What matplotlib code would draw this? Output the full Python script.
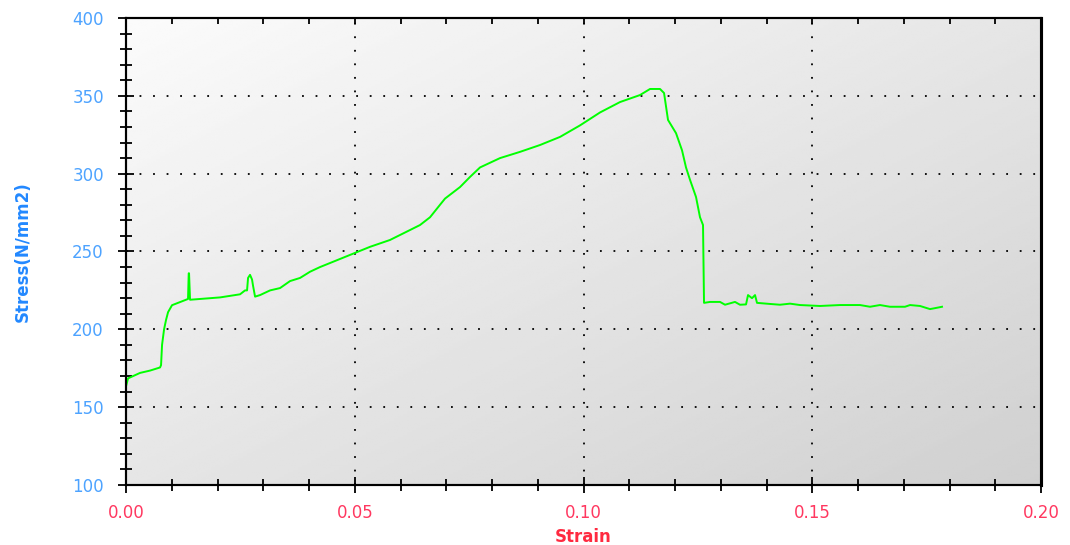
import numpy as np
import matplotlib.pyplot as plt
from matplotlib.ticker import MultipleLocator

# strain / stress
strain = [0.0, 0.00044, 0.00306, 0.00525, 0.00743, 0.00765, 0.00787, 0.00831,
          0.00874, 0.00918, 0.01005, 0.0118, 0.01311, 0.01355, 0.0137, 0.01377,
          0.01399, 0.01617, 0.02055, 0.02492, 0.02601, 0.02645, 0.02667, 0.0271,
          0.02754, 0.02776, 0.0282, 0.02929, 0.03148, 0.03366, 0.03585, 0.03803,
          0.04022, 0.0424, 0.04459, 0.04896, 0.05333, 0.0577, 0.06208, 0.06426,
          0.06645, 0.06863, 0.06973, 0.07301, 0.07519, 0.07738, 0.08175, 0.08612,
          0.09049, 0.09486, 0.09923, 0.1036, 0.10798, 0.11235, 0.11454, 0.11672,
          0.1176, 0.11847, 0.12022, 0.12153, 0.1224, 0.12328, 0.12459, 0.12546,
          0.12612, 0.12634, 0.12765, 0.12984, 0.13093, 0.13311, 0.1342, 0.13552,
          0.13596, 0.13683, 0.13749, 0.13792, 0.14077, 0.14295, 0.14514, 0.14732,
          0.15169, 0.15607, 0.16044, 0.16262, 0.16481, 0.16699, 0.17027, 0.17137,
          0.17355, 0.17574, 0.17683, 0.17836]
stress = [163.5, 168.5, 172.0, 173.5, 175.5, 177.0, 190.0, 200.0,
          206.0, 211.0, 215.5, 217.5, 219.0, 219.5, 236.0, 236.0,
          219.0, 219.5, 220.5, 222.5, 225.0, 225.0, 233.0, 235.0,
          232.0, 228.0, 221.0, 222.0, 225.0, 226.5, 231.0, 233.0,
          237.0, 240.0, 242.6, 247.8, 253.0, 257.4, 263.8, 267.0,
          272.0, 280.0, 284.0, 291.4, 297.9, 304.0, 310.0, 314.0,
          318.4, 323.6, 331.0, 339.3, 346.0, 350.5, 354.4, 354.4,
          351.8, 334.5, 326.0, 315.0, 304.0, 296.0, 285.0, 272.0,
          267.0, 217.0, 217.6, 217.6, 215.8, 217.6, 215.8, 216.0,
          222.0, 220.0, 222.0, 217.0, 216.3, 215.8, 216.5, 215.6,
          215.0, 215.6, 215.6, 214.5, 215.6, 214.5, 214.5, 215.6,
          215.0, 213.0, 213.6, 214.5]

xticks = [0.00, 0.05, 0.10, 0.15, 0.20]
yticks = [100, 150, 200, 250, 300, 350, 400]

fig = plt.figure(figsize=(10.7, 5.45), dpi=100)
ax = fig.add_axes([0.1178, 0.1101, 0.8551, 0.8569])

# gradient background, light top-left to grey bottom-right
gx, gy = np.meshgrid(np.linspace(0, 1, 200), np.linspace(0, 1, 200))
grad = 0.985 - 0.17 * (gx + gy) / 2
ax.imshow(grad, extent=[0, 0.2, 100, 400], aspect='auto', cmap='gray',
          vmin=0, vmax=1, zorder=0, interpolation='bilinear')

ax.plot(strain, stress, color='#00ff00', lw=1.4, zorder=3)

ax.set_xlim(0, 0.2)
ax.set_ylim(100, 400)
ax.set_xticks(xticks)
ax.set_yticks(yticks)
ax.set_xticklabels([f'{t:.2f}' for t in xticks])
ax.xaxis.set_minor_locator(MultipleLocator(0.01))
ax.yaxis.set_minor_locator(MultipleLocator(10))

ax.grid(True, which='major', color='black', linestyle=(0, (1, 6.5)), lw=1.3, zorder=1)

ax.tick_params(axis='both', which='major', direction='inout', length=12, width=1.3)
ax.tick_params(axis='both', which='minor', direction='inout', length=8, width=1.3)
ax.tick_params(axis='x', which='major', labelsize=12, labelcolor='#ff3860', pad=8)
ax.tick_params(axis='y', which='major', labelsize=12, labelcolor='#4da3ff', pad=10)

# short inward ticks along the top edge
top = ax.twiny()
top.set_xlim(0, 0.2)
top.set_xticks(xticks)
top.xaxis.set_minor_locator(MultipleLocator(0.01))
top.tick_params(which='both', direction='in', length=4, width=1.3, labeltop=False)

for a in (ax, top):
    for side in ['left', 'bottom', 'top']:
        a.spines[side].set_linewidth(1.5)
    a.spines['right'].set_linewidth(2.2)

ax.set_xlabel('Strain', color='#ff2a40', fontsize=12, fontweight='bold', labelpad=4)
ax.set_ylabel('Stress(N/mm2)', color='#2288ff', fontsize=12, fontweight='bold',
              labelpad=29)

fig.savefig('out.png', dpi=100)
